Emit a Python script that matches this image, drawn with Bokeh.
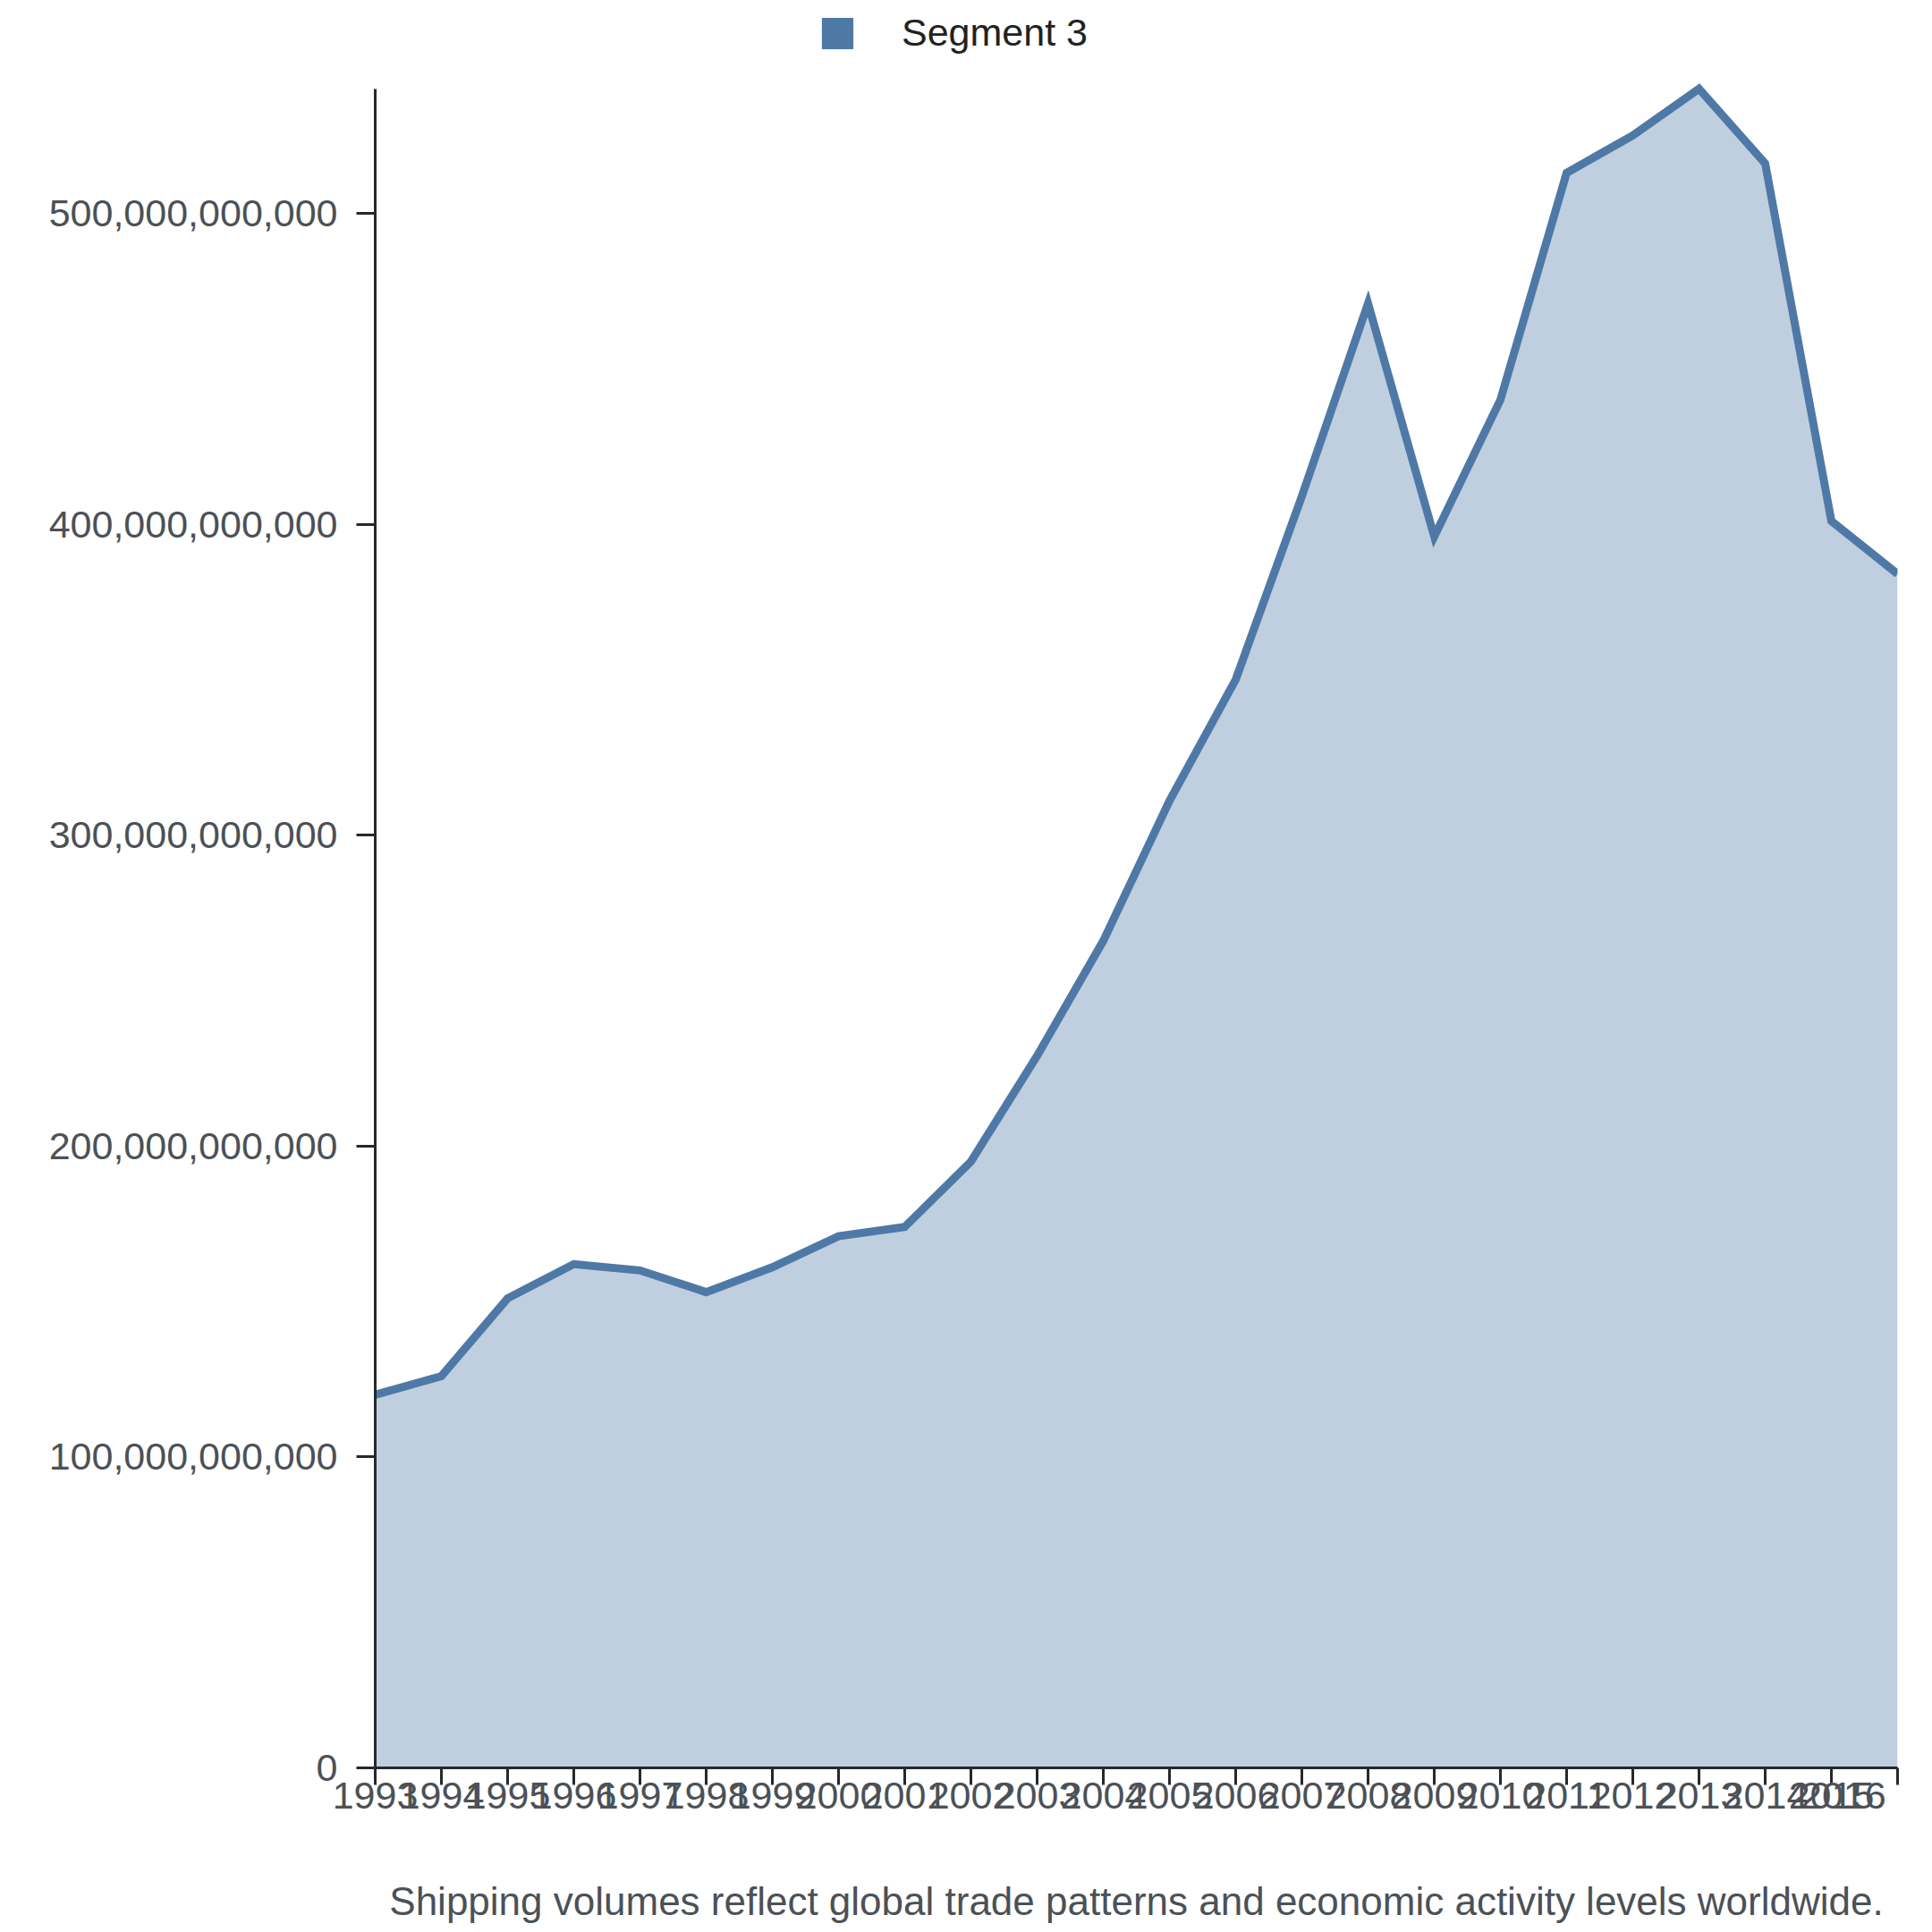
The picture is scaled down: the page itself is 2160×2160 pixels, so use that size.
import numpy as np
from bokeh.plotting import figure
from bokeh.models import (ColumnDataSource, FixedTicker, NumeralTickFormatter, Legend,
                          LegendItem, Range1d)
from bokeh.embed import file_html
from bokeh.resources import INLINE

years = list(range(1993, 2017))
values = [120e9, 126e9, 151e9, 162e9, 160e9, 153e9, 161e9, 171e9, 174e9, 195e9,
          229e9, 266e9, 311e9, 350e9, 409e9, 471e9, 396e9, 440e9, 513e9, 525e9,
          540e9, 516e9, 401e9, 384e9]
y_ticks = [0, 100e9, 200e9, 300e9, 400e9, 500e9]
series_name = "Segment 3"
caption = "Shipping volumes reflect global trade patterns and economic activity levels worldwide."

COLOR = "#4e79a7"
TEXT = "#4b5157"
AXIS = "#25282c"
FONT = "Liberation Sans"
FS = "43px"

H = 2152
TOP = 4            # frame top (room for legend inside the frame)
DATA_TOP = 99      # where the y-axis (data max) ends
BOTTOM = 173
frame_h = H - TOP - BOTTOM
data_h = H - DATA_TOP - BOTTOM
y_max = max(values)
y_end = y_max * frame_h / data_h

src = ColumnDataSource(dict(x=years, y=values, base=[0] * len(years)))

p = figure(width=2144, height=H, output_backend="svg", toolbar_location=None,
           x_range=Range1d(years[0], years[-1]), y_range=Range1d(0, y_end),
           min_border_left=419, min_border_right=23, min_border_top=TOP,
           min_border_bottom=BOTTOM)
p.outline_line_color = None
p.xgrid.visible = False
p.ygrid.visible = False
p.background_fill_color = "white"
p.border_fill_color = "white"

p.varea(x="x", y1="base", y2="y", source=src, fill_color=COLOR, fill_alpha=0.36)
p.line(x="x", y="y", source=src, line_color=COLOR, line_width=9, line_join="miter")

# legend swatch proxy (nothing drawn in the plot)
nan = np.array([np.nan])
proxy = p.quad(left=nan, right=nan, top=nan, bottom=nan, fill_color=COLOR, line_color=None)
legend = Legend(items=[LegendItem(label=series_name, renderers=[proxy])],
                location="top_center", orientation="horizontal",
                glyph_width=44, glyph_height=44, label_standoff=50, label_width=618,
                padding=0, margin=8, border_line_color=None, background_fill_alpha=0,
                label_text_font=FONT, label_text_font_size=FS, label_text_color="#222222",
                label_height=44)
p.add_layout(legend, "center")

xa = p.xaxis[0]
xa.ticker = FixedTicker(ticks=years)
xa.major_label_overrides = {years[-1]: str(years[-1]) + "\u00a0" * 3}
xa.minor_tick_line_color = None
xa.axis_line_width = 3
xa.axis_line_color = AXIS
xa.major_tick_line_width = 3
xa.major_tick_line_color = AXIS
xa.major_tick_out = 19
xa.major_tick_in = 0
xa.major_label_standoff = -13
xa.major_label_text_font = FONT
xa.major_label_text_font_size = FS
xa.major_label_text_color = TEXT
xa.axis_label = caption
xa.axis_label_standoff = 67
xa.axis_label_text_font = FONT
xa.axis_label_text_font_size = "44px"
xa.axis_label_text_font_style = "normal"
xa.axis_label_text_color = TEXT

ya = p.yaxis[0]
ya.ticker = FixedTicker(ticks=y_ticks)
ya.bounds = (0, y_max)
ya.formatter = NumeralTickFormatter(format="0,0")
ya.minor_tick_line_color = None
ya.axis_line_width = 3
ya.axis_line_color = AXIS
ya.major_tick_line_width = 3
ya.major_tick_line_color = AXIS
ya.major_tick_out = 21
ya.major_tick_in = 0
ya.major_label_standoff = 21
ya.major_label_text_font = FONT
ya.major_label_text_font_size = FS
ya.major_label_text_color = TEXT

open("out.html", "w").write(file_html(p, INLINE))
